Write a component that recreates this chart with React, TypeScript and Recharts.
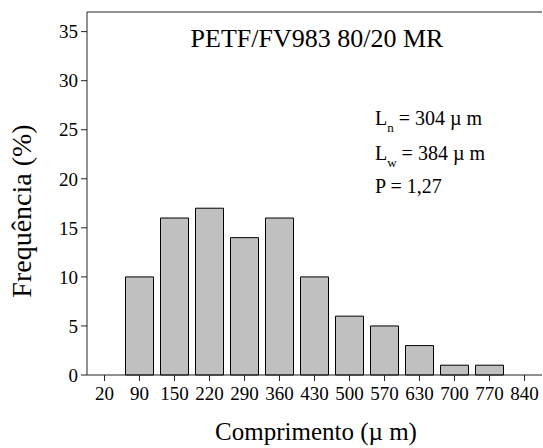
import { Bar, BarChart, ReferenceLine, XAxis, YAxis } from 'recharts'

// comprimento (µm) – centro de cada classe
const classes = ['20', '90', '150', '220', '290', '360', '430', '500', '570', '630', '700', '770', '840']
// frequência (%)
const freq = [0, 10, 16, 17, 14, 16, 10, 6, 5, 3, 1, 1, 0]

const yMajor = [0, 5, 10, 15, 20, 25, 30, 35]
const yMinor = [2.5, 7.5, 12.5, 17.5, 22.5, 27.5, 32.5]
// limites das classes (em índice de classe)
const xMinor = [0, 1, 2, 3, 4, 5, 6, 7, 8, 9, 10, 11, 12, 13]

const data = classes.map((c, i) => ({ classe: c, freq: freq[i] }))

const serif = "'Liberation Serif', 'Times New Roman', 'DejaVu Serif', serif"
const axisColor = '#222'
const txt = { fontFamily: serif, fill: '#000' }

export default function App() {
  return (
    <div style={{ position: 'absolute', left: 0, top: 0 }}>
      <BarChart
        width={543}
        height={448}
        data={data}
        margin={{ top: 12, right: 1, left: 0, bottom: 0 }}
        barCategoryGap="10%"
        style={{ fontFamily: serif }}
      >
        {/* ticks menores (declarados primeiro, ficam colados ao gráfico) */}
        <XAxis
          xAxisId="minor"
          type="number"
          domain={[0, 13]}
          ticks={xMinor}
          tick={false}
          tickSize={3}
          axisLine={false}
          tickLine={{ stroke: axisColor }}
          height={0}
        />
        <YAxis
          yAxisId="minor"
          type="number"
          domain={[0, 37]}
          ticks={yMinor}
          tick={false}
          tickSize={3}
          axisLine={false}
          tickLine={{ stroke: axisColor }}
          width={0}
        />
        <XAxis
          dataKey="classe"
          tickSize={6}
          tickMargin={6}
          interval={0}
          stroke={axisColor}
          tick={{ fontSize: 19, style: txt }}
          height={73}
        />
        <YAxis
          type="number"
          domain={[0, 37]}
          ticks={yMajor}
          tickSize={6}
          tickMargin={3}
          stroke={axisColor}
          tick={{ fontSize: 19, style: txt }}
          width={87}
        />
        {/* moldura direita */}
        <YAxis yAxisId="right" orientation="right" domain={[0, 37]} tick={false} tickLine={false} stroke={axisColor} width={0} />
        <Bar dataKey="freq" fill="#c0c0c0" stroke="#000" strokeWidth={1} isAnimationActive={false} />
        {/* moldura superior */}
        <ReferenceLine y={37} stroke={axisColor} />

        <text x={317} y={47} textAnchor="middle" fontSize={26} style={txt}>
          PETF/FV983 80/20 MR
        </text>
        <text x={375} y={125} fontSize={20} style={txt}>
          L<tspan dy={7} fontSize={13}>n</tspan>
          <tspan dy={-7}> = 304 µ m</tspan>
        </text>
        <text x={375} y={160} fontSize={20} style={txt}>
          L<tspan dy={7} fontSize={13}>w</tspan>
          <tspan dy={-7}> = 384 µ m</tspan>
        </text>
        <text x={375} y={193} fontSize={20} style={txt}>
          P = 1,27
        </text>
        <text x={316} y={440} textAnchor="middle" fontSize={25} style={txt}>
          Comprimento (µ m)
        </text>
        <text x={31} y={211} textAnchor="middle" fontSize={28} style={txt} transform="rotate(-90, 31, 211)">
          Frequência (%)
        </text>
      </BarChart>
    </div>
  )
}
